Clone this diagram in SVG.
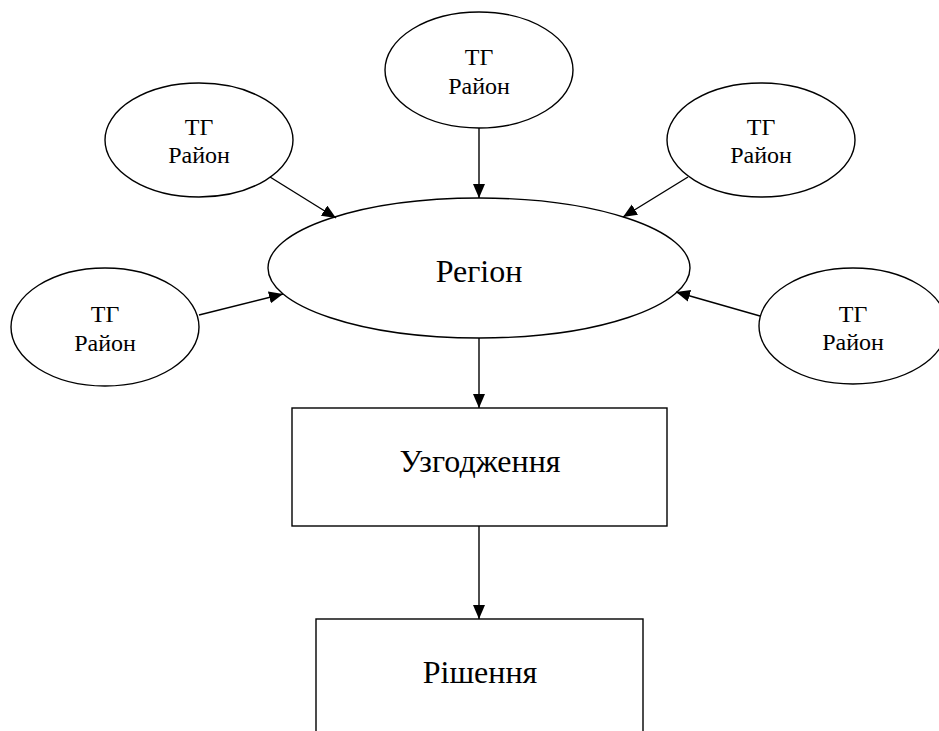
<svg xmlns="http://www.w3.org/2000/svg" width="939" height="731" viewBox="0 0 939 731">
  <style>
    .shape { fill: #fff; stroke: #000; stroke-width: 1.4; }
    .edge { fill: none; stroke: #000; stroke-width: 1.4; marker-end: url(#arrow); }
    text { font-family: "Liberation Serif", "Times New Roman", "DejaVu Serif", serif; fill: #000; text-anchor: middle; }
    .small { font-size: 24px; }
    .big { font-size: 32px; }
  </style>
  <defs>
    <marker id="arrow" markerUnits="userSpaceOnUse" markerWidth="16" markerHeight="14" refX="14" refY="6" orient="auto">
      <path d="M0,0 L14,6 L0,12 Z" fill="#000"/>
    </marker>
  </defs>
  <rect width="939" height="731" fill="#fff"/>

  <g id="tg-top">
    <ellipse class="shape" cx="479" cy="70" rx="94" ry="58"/>
    <text class="small" x="479" y="65">ТГ</text>
    <text class="small" x="479" y="94">Район</text>
  </g>
  <g id="tg-top-left">
    <ellipse class="shape" cx="199" cy="140" rx="94" ry="57"/>
    <text class="small" x="199" y="135">ТГ</text>
    <text class="small" x="199" y="163">Район</text>
  </g>
  <g id="tg-top-right">
    <ellipse class="shape" cx="761" cy="140" rx="94" ry="57"/>
    <text class="small" x="761" y="135">ТГ</text>
    <text class="small" x="761" y="163">Район</text>
  </g>
  <g id="tg-left">
    <ellipse class="shape" cx="105" cy="327" rx="94" ry="59"/>
    <text class="small" x="105" y="322">ТГ</text>
    <text class="small" x="105" y="351">Район</text>
  </g>
  <g id="tg-right">
    <ellipse class="shape" cx="853" cy="326" rx="94" ry="58"/>
    <text class="small" x="853" y="322">ТГ</text>
    <text class="small" x="853" y="350">Район</text>
  </g>
  <g id="region">
    <ellipse class="shape" cx="479" cy="268" rx="211" ry="70"/>
    <text class="big" x="479" y="282">Регіон</text>
  </g>
  <g id="agreement">
    <rect class="shape" x="292" y="408" width="375" height="118"/>
    <text class="big" x="480" y="472">Узгодження</text>
  </g>
  <g id="decision">
    <rect class="shape" x="316" y="619" width="327" height="130"/>
    <text class="big" x="480" y="683">Рішення</text>
  </g>

  <g id="connectors">
    <path class="edge" d="M479,128 L479,198"/>
    <path class="edge" d="M270,177 L336,218"/>
    <path class="edge" d="M688,177 L623,217"/>
    <path class="edge" d="M199,315 L283,294"/>
    <path class="edge" d="M760,316 L676,292"/>
    <path class="edge" d="M479,338 L479,408"/>
    <path class="edge" d="M479,526 L479,619"/>
  </g>
</svg>
